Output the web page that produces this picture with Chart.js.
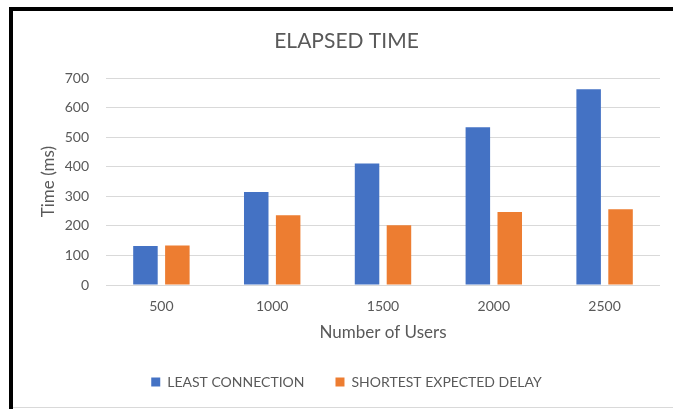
<!DOCTYPE html>
<html>
<head>
<meta charset="utf-8">
<script src="https://cdn.jsdelivr.net/npm/chart.js@4/dist/chart.umd.min.js"></script>
<style>
  html, body { margin: 0; padding: 0; background: #fff; }
  #wrap { position: relative; width: 673px; height: 409px; overflow: hidden; }
  #chart { position: absolute; left: 0; top: 0; }
  .frame {
    position: absolute; left: 9px; top: 7px; width: 700px; height: 420px;
    border-top: 4px solid #000; border-left: 4px solid #000;
  }
  .baseline {
    position: absolute; left: 13px; top: 407px; width: 680px; height: 1px;
    background: #d9d9d9;
  }
</style>
</head>
<body>
<div id="wrap">
  <canvas id="chart" width="673" height="409"></canvas>
  <div class="frame"></div>
  <div class="baseline"></div>
</div>
<script>
const users = ["500", "1000", "1500", "2000", "2500"];
const leastConnection = [132, 315, 411, 534, 663];
const shortestExpectedDelay = [134, 236, 202, 247, 256];
const yTicks = [0, 100, 200, 300, 400, 500, 600, 700];

const TEXT = "#595959";
const GRID = "#d9d9d9";
const FONT = "Lato, 'Open Sans', sans-serif";

new Chart(document.getElementById("chart"), {
  type: "bar",
  data: {
    labels: users,
    datasets: [
      {
        label: "LEAST CONNECTION",
        data: leastConnection,
        backgroundColor: "#4472c4",
        categoryPercentage: 0.576,
        barPercentage: 0.768,
      },
      {
        label: "SHORTEST EXPECTED DELAY",
        data: shortestExpectedDelay,
        backgroundColor: "#ed7d31",
        categoryPercentage: 0.576,
        barPercentage: 0.768,
      },
    ],
  },
  options: {
    responsive: false,
    devicePixelRatio: 1,
    animation: false,
    layout: { padding: { left: 33, right: 13, top: 0, bottom: 10 } },
    plugins: {
      title: {
        display: true,
        text: "ELAPSED TIME",
        color: TEXT,
        font: { family: FONT, size: 21, weight: "normal" },
        padding: { top: 29, bottom: 24 },
      },
      legend: {
        position: "bottom",
        labels: {
          color: TEXT,
          font: { family: FONT, size: 14 },
          boxWidth: 9,
          boxHeight: 9,
          padding: 31,
        },
      },
      tooltip: { enabled: false },
    },
    scales: {
      x: {
        grid: { display: false },
        border: { display: false },
        ticks: { color: TEXT, font: { family: FONT, size: 14 }, padding: 5 },
        title: {
          display: true,
          text: "Number of Users",
          color: TEXT,
          font: { family: FONT, size: 17 },
          padding: { top: 0, bottom: 1 },
        },
        afterFit: (scale) => { scale.height = 59; },
      },
      y: {
        min: 0,
        max: 700,
        afterBuildTicks: (scale) => { scale.ticks = yTicks.map((v) => ({ value: v })); },
        grid: { color: GRID, lineWidth: 1, drawTicks: false },
        border: { display: false },
        ticks: { color: TEXT, font: { family: FONT, size: 14 }, padding: 17 },
        title: {
          display: true,
          text: "Time (ms)",
          color: TEXT,
          font: { family: FONT, size: 17 },
          padding: { top: 5, bottom: 0 },
        },
        afterFit: (scale) => { scale.width = 73; },
      },
    },
  },
});
</script>
</body>
</html>
